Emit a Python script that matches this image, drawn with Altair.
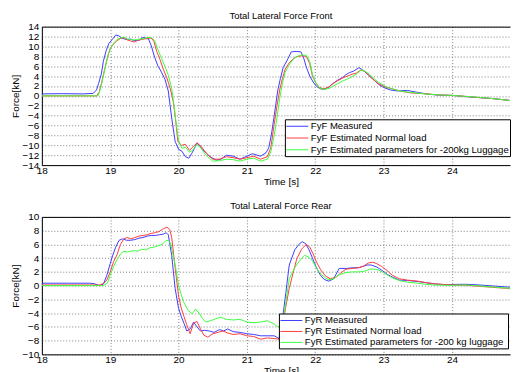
import altair as alt
import pandas as pd

FONT = "Liberation Sans"

# ---------------- Front axle (top panel) ----------------
front_names = ["FyF Measured", "FyF Estimated Normal load",
               "FyF Estimated parameters for -200kg Luggage"]

fyf_meas_t = [18.0, 18.3, 18.6, 18.75, 18.8, 18.83, 18.87, 18.9, 18.94, 18.98, 19.03, 19.08, 19.12, 19.17, 19.21, 19.25,
              19.3, 19.34, 19.38, 19.43, 19.47, 19.52, 19.56, 19.6, 19.65, 19.7, 19.75, 19.8, 19.85, 19.9, 19.95, 20.0,
              20.05, 20.1, 20.15, 20.2, 20.27, 20.35, 20.45, 20.55, 20.62, 20.7, 20.8, 20.9, 21.0, 21.08, 21.15, 21.2,
              21.28, 21.32, 21.36, 21.4, 21.45, 21.49, 21.53, 21.6, 21.65, 21.72, 21.79, 21.83, 21.87, 21.92, 21.97,
              22.02, 22.08, 22.13, 22.2, 22.27, 22.33, 22.4, 22.45, 22.5, 22.56, 22.64, 22.7, 22.78, 22.86, 22.93, 23.0,
              23.1, 23.2, 23.35, 23.5, 23.65, 23.8, 24.0, 24.2, 24.4, 24.6, 24.8, 25.0]
fyf_meas_v = [0.4, 0.45, 0.4, 0.5, 1.2, 2.5, 4.4, 7.0, 9.1, 10.6, 11.4, 12.3, 12.2, 11.7, 11.5, 11.4,
              11.5, 11.2, 11.2, 11.3, 11.8, 11.7, 11.5, 10.2, 7.8, 6.0, 4.8, 3.4, 1.0, -4.5, -9.2, -10.8,
              -11.2, -12.3, -12.6, -11.5, -9.5, -10.8, -12.2, -13.0, -12.8, -12.0, -12.2, -12.8, -12.2, -11.7, -12.0, -12.2,
              -11.5, -10.5, -7.7, -4.0, 1.0, 3.5, 5.7, 7.5, 8.9, 9.0, 8.9, 7.7, 5.8, 4.0, 2.8,
              1.9, 1.4, 1.35, 1.8, 2.6, 3.2, 3.7, 4.3, 4.7, 5.0, 5.7, 5.2, 4.2, 3.2, 2.3, 1.7,
              1.2, 1.0, 1.1, 0.7, 0.35, 0.15, 0.1, -0.15, -0.35, -0.55, -0.85, -1.15]

fyf_norm_t = [18.0, 18.5, 18.8, 18.84, 18.88, 18.92, 18.96, 19.0, 19.05, 19.1, 19.15, 19.2, 19.25, 19.3, 19.35, 19.4,
              19.45, 19.5, 19.55, 19.6, 19.64, 19.68, 19.73, 19.78, 19.83, 19.88, 19.92, 19.95, 19.99, 20.04, 20.1,
              20.16, 20.22, 20.27, 20.33, 20.4, 20.5, 20.6, 20.7, 20.8, 20.9, 21.0, 21.1, 21.2, 21.3, 21.35, 21.4,
              21.44, 21.48, 21.52, 21.56, 21.62, 21.67, 21.72, 21.8, 21.87, 21.92, 21.96, 22.01, 22.06, 22.13, 22.2,
              22.25, 22.32, 22.4, 22.47, 22.54, 22.6, 22.67, 22.73, 22.79, 22.86, 22.93, 23.03, 23.13, 23.27, 23.4,
              23.6, 23.8, 24.0, 24.2, 24.4, 24.6, 24.8, 25.0]
fyf_norm_v = [0.0, 0.0, 0.0, 0.8, 3.0, 5.5, 7.8, 9.6, 10.5, 11.2, 11.6, 11.8, 11.3, 11.1, 10.9, 11.2,
              11.4, 11.5, 11.6, 11.7, 11.0, 9.0, 7.3, 5.3, 3.6, 1.4, -1.0, -4.0, -9.2, -10.0, -9.8,
              -11.0, -10.2, -9.5, -10.2, -11.5, -12.8, -12.8, -12.3, -12.5, -12.8, -12.5, -12.2, -12.8, -12.3, -10.5, -5.7,
              -2.0, 1.2, 3.5, 5.4, 6.7, 7.4, 7.9, 8.1, 8.0, 6.5, 4.0, 2.6, 1.7, 1.4, 1.8,
              2.4, 3.0, 3.6, 4.0, 4.4, 4.6, 5.25, 4.9, 4.05, 3.2, 2.4, 1.8, 1.4, 0.9, 0.6,
              0.45, 0.2, 0.1, -0.1, -0.35, -0.55, -0.85, -1.2]

fyf_lug_t = [18.0, 18.5, 18.82, 18.86, 18.9, 18.94, 18.98, 19.02, 19.06, 19.1, 19.15, 19.2, 19.25, 19.3, 19.35, 19.4,
             19.45, 19.5, 19.55, 19.6, 19.65, 19.7, 19.75, 19.8, 19.85, 19.9, 19.93, 19.96, 20.0, 20.05, 20.1, 20.16,
             20.22, 20.27, 20.33, 20.4, 20.5, 20.6, 20.7, 20.8, 20.9, 21.0, 21.1, 21.2, 21.3, 21.35, 21.4, 21.44,
             21.48, 21.52, 21.56, 21.62, 21.67, 21.72, 21.8, 21.87, 21.92, 21.96, 22.01, 22.06, 22.13, 22.2, 22.25,
             22.32, 22.4, 22.47, 22.54, 22.6, 22.67, 22.73, 22.79, 22.86, 22.93, 23.03, 23.13, 23.27, 23.4, 23.6,
             23.8, 24.0, 24.2, 24.4, 24.6, 24.8, 25.0]
fyf_lug_v = [0.0, 0.0, 0.0, 1.5, 4.0, 6.5, 8.8, 10.0, 10.8, 11.4, 11.7, 11.9, 11.5, 11.4, 11.3, 11.4,
             11.5, 11.6, 11.8, 11.8, 11.2, 9.3, 7.6, 6.0, 4.2, 1.5, -1.5, -5.0, -9.0, -10.6, -10.4, -11.4,
             -10.8, -9.8, -10.6, -12.0, -13.2, -13.1, -12.8, -12.9, -13.2, -12.8, -12.6, -13.2, -12.8, -11.3, -8.0, -4.5,
             -0.5, 2.5, 4.8, 6.3, 7.3, 7.9, 8.3, 8.2, 7.0, 4.3, 2.6, 1.6, 1.3, 1.5, 1.9,
             2.4, 3.0, 3.4, 3.9, 4.4, 5.25, 5.0, 4.4, 3.5, 2.7, 1.9, 1.4, 0.9, 0.7, 0.4,
             0.2, 0.1, -0.1, -0.3, -0.55, -0.85, -1.3]

# ---------------- Rear axle (bottom panel) ----------------
rear_names = ["FyR Measured", "FyR Estimated Normal load",
              "FyR Estimated parameters for  -200 kg luggage"]

fyr_meas_t = [18.0, 18.4, 18.7, 18.76, 18.84, 18.9, 18.95, 19.0, 19.04, 19.08, 19.13, 19.18, 19.24, 19.3, 19.36, 19.42,
              19.48, 19.54, 19.6, 19.66, 19.72, 19.78, 19.82, 19.85, 19.9, 19.95, 20.0, 20.04, 20.08, 20.12, 20.17,
              20.22, 20.27, 20.32, 20.38, 20.45, 20.52, 20.6, 20.66, 20.72, 20.8, 20.9, 21.0, 21.1, 21.2, 21.3, 21.4,
              21.47, 21.52, 21.57, 21.62, 21.7, 21.76, 21.81, 21.86, 21.91, 21.96, 22.01, 22.07, 22.13, 22.2, 22.27,
              22.35, 22.45, 22.55, 22.63, 22.7, 22.76, 22.82, 22.9, 22.98, 23.06, 23.14, 23.23, 23.35, 23.5, 23.61,
              23.75, 23.9, 24.0, 24.2, 24.4, 24.6, 24.8, 25.0]
fyr_meas_v = [0.35, 0.35, 0.35, 0.3, 0.0, 0.2, 1.5, 3.2, 4.5, 5.6, 6.6, 6.8, 6.6, 6.6, 6.7, 6.9,
              7.0, 7.2, 7.3, 7.3, 7.4, 7.5, 7.7, 7.4, 4.4, -0.4, -3.3, -4.5, -5.5, -6.6, -6.3,
              -5.3, -6.0, -6.6, -6.5, -6.6, -6.8, -6.4, -6.6, -6.3, -6.7, -6.8, -7.0, -7.1, -7.3, -7.3, -7.3,
              -7.7, -5.0, -1.0, 3.0, 5.2, 6.0, 6.4, 6.1, 5.2, 4.0, 2.8, 1.6, 0.9, 0.65, 1.0,
              2.5, 2.5, 2.6, 2.6, 2.8, 3.0, 3.0, 2.7, 2.2, 1.6, 1.2, 0.8, 0.75, 0.6, 0.45,
              0.25, 0.15, 0.17, 0.2, 0.1, -0.05, -0.2, -0.3]

fyr_norm_t = [18.0, 18.5, 18.85, 18.9, 18.95, 19.0, 19.05, 19.1, 19.15, 19.2, 19.25, 19.3, 19.36, 19.42, 19.48, 19.54,
              19.6, 19.66, 19.72, 19.78, 19.83, 19.87, 19.9, 19.94, 19.97, 20.0, 20.04, 20.08, 20.12, 20.17, 20.22,
              20.27, 20.32, 20.37, 20.43, 20.5, 20.58, 20.65, 20.72, 20.8, 20.9, 21.0, 21.1, 21.2, 21.3, 21.4, 21.47,
              21.52, 21.57, 21.62, 21.68, 21.73, 21.8, 21.87, 21.92, 21.97, 22.02, 22.08, 22.15, 22.22, 22.3, 22.38,
              22.45, 22.55, 22.63, 22.7, 22.78, 22.84, 22.9, 22.97, 23.05, 23.13, 23.23, 23.35, 23.5, 23.61, 23.75,
              23.9, 24.0, 24.2, 24.4, 24.6, 24.8, 25.0]
fyr_norm_v = [0.1, 0.1, 0.1, 0.3, 0.8, 2.0, 3.5, 4.5, 6.0, 6.8, 7.0, 6.8, 7.0, 7.2, 7.3, 7.4,
              7.6, 7.7, 7.9, 8.3, 8.5, 8.2, 7.0, 3.5, 1.0, -1.5, -3.3, -4.5, -5.7, -7.0, -5.5,
              -5.2, -6.3, -7.2, -7.5, -7.0, -6.8, -6.6, -6.9, -7.1, -7.0, -7.3, -7.4, -7.8, -7.6, -7.7, -7.8,
              -6.0, -3.0, -0.4, 2.0, 3.9, 5.3, 6.0, 5.6, 4.6, 3.4, 2.3, 1.4, 1.0, 1.2, 1.9,
              2.4, 2.5, 2.6, 2.8, 3.3, 3.4, 3.2, 2.8, 2.2, 1.5, 1.0, 0.8, 0.65, 0.45, 0.25,
              0.15, 0.1, 0.05, -0.1, -0.25, -0.4, -0.6]

fyr_lug_t = [18.0, 18.5, 18.9, 18.96, 19.0, 19.05, 19.1, 19.15, 19.2, 19.25, 19.3, 19.35, 19.4, 19.46, 19.52, 19.58,
             19.64, 19.7, 19.76, 19.81, 19.85, 19.88, 19.92, 19.96, 20.0, 20.07, 20.14, 20.2, 20.25, 20.3, 20.35,
             20.4, 20.47, 20.55, 20.62, 20.7, 20.8, 20.9, 21.0, 21.1, 21.2, 21.3, 21.4, 21.47, 21.52, 21.57, 21.62,
             21.7, 21.77, 21.84, 21.9, 21.96, 22.02, 22.08, 22.15, 22.2, 22.27, 22.35, 22.45, 22.55, 22.65, 22.72,
             22.8, 22.86, 22.92, 23.0, 23.08, 23.16, 23.25, 23.35, 23.5, 23.61, 23.75, 23.9, 24.0, 24.2, 24.4, 24.6,
             24.8, 25.0]
fyr_lug_v = [0.0, 0.0, 0.0, 0.4, 1.5, 2.8, 3.8, 4.6, 5.0, 4.9, 5.0, 5.1, 5.0, 5.3, 5.2, 5.5,
             5.6, 5.8, 6.0, 6.5, 6.6, 6.2, 4.5, 2.5, 0.0, -2.3, -3.6, -4.1, -3.4, -4.0, -4.8,
             -5.3, -5.1, -4.8, -4.6, -4.9, -5.0, -4.9, -5.3, -5.4, -5.3, -5.1, -5.6, -6.1, -5.5, -2.5, 1.0,
             2.6, 3.6, 4.4, 4.2, 3.6, 2.5, 1.7, 1.1, 0.85, 1.0, 1.6, 1.9, 2.0, 2.0, 2.1,
             2.4, 2.4, 2.3, 1.9, 1.4, 1.0, 0.7, 0.5, 0.35, 0.2, 0.1, 0.05, 0.05, 0.1, -0.05, -0.2,
             -0.35, -0.5]

colors = ["#3c3cff", "#ff3c3c", "#3cff3c"]
x_ticks = [18, 19, 20, 21, 22, 23, 24]


def frame(names, series):
    rows = []
    for order, (name, (ts, vs)) in enumerate(zip(names, series)):
        for t, v in zip(ts, vs):
            rows.append({"t": t, "v": v, "s": name, "o": order})
    return pd.DataFrame(rows)


def panel(df, names, title, ymin, ymax, height, lx, ly, row_pad):
    xscale = alt.Scale(domain=[18, 24.85], nice=False, zero=False)
    yscale = alt.Scale(domain=[ymin, ymax], nice=False)
    yaxis = alt.Axis(values=list(range(ymin, ymax + 1, 2)), format="d", labelPadding=3)
    lines = alt.Chart(df).mark_line(strokeWidth=1, clip=True).encode(
        x=alt.X("t:Q", title="Time [s]", scale=xscale,
                axis=alt.Axis(values=x_ticks, format="d", titleX=240, labelPadding=0, titlePadding=1)),
        y=alt.Y("v:Q", title="Force[kN]", scale=yscale, axis=yaxis),
        color=alt.Color("s:N", scale=alt.Scale(domain=names, range=colors),
                        legend=alt.Legend(orient="none", legendX=lx, legendY=ly, title=None,
                                          symbolType="M-1,0H3", symbolSize=121, symbolStrokeWidth=1,
                                          strokeColor="black", fillColor="white", padding=1,
                                          labelFontSize=9.6, labelFont=FONT, labelLimit=0,
                                          rowPadding=row_pad, labelOffset=13, cornerRadius=0)),
        order="o:Q",
    )
    top_edge = alt.Chart(df).mark_line(opacity=0, clip=True).encode(
        x=alt.X("t:Q", scale=xscale,
                axis=alt.Axis(orient="top", labels=False, ticks=False, grid=False, title=None)),
        y=alt.Y("v:Q", title="Force[kN]", scale=yscale, axis=yaxis),
    )
    return alt.layer(lines, top_edge, title=alt.TitleParams(title, frame="group", dx=5)).resolve_axis(
        x="independent").properties(width=470, height=height)


front = panel(frame(front_names, [(fyf_meas_t, fyf_meas_v), (fyf_norm_t, fyf_norm_v), (fyf_lug_t, fyf_lug_v)]),
              front_names, "Total Lateral Force Front", -14, 14, 139, 244, 93, 0.8)
rear = panel(frame(rear_names, [(fyr_meas_t, fyr_meas_v), (fyr_norm_t, fyr_norm_v), (fyr_lug_t, fyr_lug_v)]),
             rear_names, "Total Lateral Force Rear", -10, 10, 138, 238, 97, 0)

chart = alt.vconcat(front, rear, spacing=15).resolve_scale(color="independent").properties(
    padding={"left": 3, "top": 2, "right": 0, "bottom": 0}
).configure_view(stroke=None).configure_axis(
    labelFont=FONT, titleFont=FONT, labelFontSize=10, titleFontSize=10, labelColor="black",
    titleColor="black", titleFontWeight="normal", ticks=False, domain=True, domainColor="black",
    domainWidth=1, titlePadding=1, grid=True, gridColor="#808080", gridDash=[1, 2],
    gridOpacity=1, gridWidth=1, labelFlush=False, labelOverlap=False
).configure_title(font=FONT, fontSize=9.5, fontWeight="normal", color="black", offset=1)

chart.save("out.html", embed_options={"renderer": "svg", "actions": False})
